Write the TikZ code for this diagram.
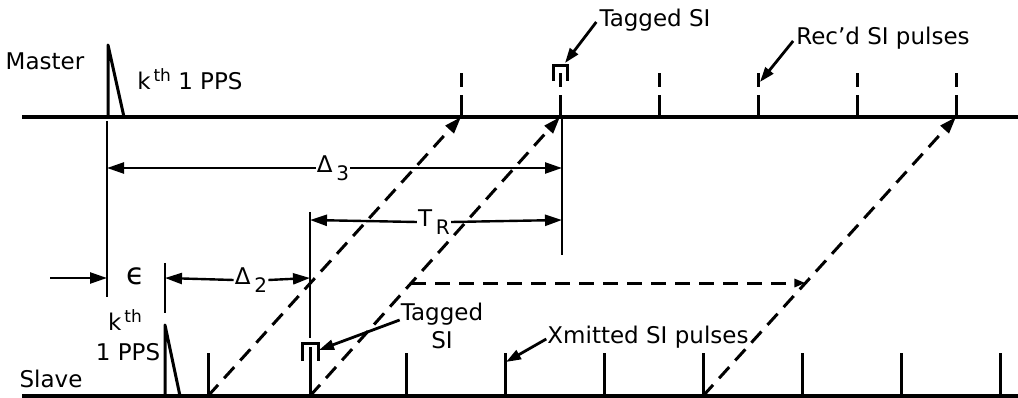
\documentclass[tikz,border=0pt]{standalone}
\usepackage{fontspec}
\setmainfont{DejaVu Sans}
\usetikzlibrary{arrows.meta,calc}
\newcommand\lsub[1]{\,\raisebox{-0.6ex}{\fontsize{20}{21}\selectfont #1}}
\newcommand\lsup[1]{\raisebox{0.65ex}{\fontsize{17}{18}\selectfont\,#1}}
\begin{document}
\begin{tikzpicture}[x=1pt,y=-1pt,
  every node/.style={font=\fontsize{23}{28}\selectfont, inner sep=1pt},
  base/.style={line width=3.6pt},
  dim/.style={line width=2.4pt},
  tick/.style={line width=3pt},
  rtick/.style={line width=3pt, dash pattern=on 22pt off 8pt on 20pt},
  dsh/.style={line width=3pt, dash pattern=on 15pt off 9pt},
  arr/.style={-{Triangle[length=17pt,width=11pt]}},
  sarr/.style={line width=2.8pt,-{Triangle[length=15pt,width=10pt]}},
]
\useasboundingbox (0,0) rectangle (1018,398);

% base lines
\coordinate (ml) at (22,117); \coordinate (mr) at (1018,117);
\coordinate (sl) at (22,396); \coordinate (sr) at (1018,396);
\draw[base] (ml) -- (mr);
\draw[base] (sl) -- (sr);

% master 1 PPS pulse
\coordinate (mp) at (108,117); \coordinate (mptop) at (108,45); \coordinate (mpfoot) at (124,117);
\draw[tick, line join=round] (mp) -- (mptop) -- (mpfoot);

% master received ticks
\foreach \i/\x in {1/461,2/560,3/659,4/758,5/857,6/956} {
  \coordinate (m\i) at (\x,117);
  \coordinate (mt\i) at (\x,73);
  \draw[rtick] (m\i) -- (mt\i);
}
% tagged bracket on master
\draw[tick] (553,81) -- (553,66) -- (567,66) -- (567,81);

% slave 1 PPS pulse
\coordinate (sp) at (165,396); \coordinate (sptop) at (165,325); \coordinate (spfoot) at (180,396);
\draw[tick, line join=round] (sp) -- (sptop) -- (spfoot);

% slave ticks
\foreach \i/\x in {0/208,2/406,3/505,4/604,5/703,6/802,7/901,8/1000} {
  \coordinate (s\i) at (\x,396);
  \coordinate (st\i) at (\x,353);
  \draw[tick] (s\i) -- (st\i);
}
% slave tagged tick
\coordinate (s1) at (310,396);
\coordinate (st1) at (310,347);
\draw[tick] (s1) -- (st1);
\draw[tick] (302,361) -- (302,343) -- (318,343) -- (318,361);

% vertical reference lines
\coordinate (va1) at (107,121); \coordinate (vb1) at (107,297);
\draw[dim] (va1) -- (vb1);
\coordinate (va2) at (562,117); \coordinate (vb2) at (562,255);
\draw[dim] (va2) -- (vb2);
\coordinate (va3) at (310,212); \coordinate (vb3) at (310,338);
\draw[dim] (va3) -- (vb3);
\coordinate (va4) at (165,263); \coordinate (vb4) at (165,313);
\draw[dim] (va4) -- (vb4);

% dashed propagation lines
\draw[dsh,arr] (s0) -- (m1);
\draw[dsh,arr] (s1) -- (m2);
\draw[dsh,arr] (s5) -- (m6);
\coordinate (h1) at ($(s1)!0.405!(m2)$);
\coordinate (h2) at ($(s5)!0.405!(m6)$);
\draw[dsh,-{Triangle[length=11pt,width=8pt]}] (h1) -- (h2);

% Delta 3
\coordinate (d3l) at (107,168); \coordinate (d3r) at (562,168);
\node (d3) at (333,168) {Δ\lsub{3}};
\draw[dim,arr] (d3.west) -- (d3l);
\draw[dim,arr] (d3.east) -- (d3r);

% T_R
\coordinate (trl) at (310,220); \coordinate (trr) at (562,220);
\node (tr) at (434,222) {T\lsub{R}};
\draw[dim,arr] (tr.west) -- (trl);
\draw[dim,arr] (tr.east) -- (trr);

% Delta 2
\coordinate (d2l) at (165,278); \coordinate (d2r) at (310,278);
\node (d2) at (251,280) {Δ\lsub{2}};
\draw[dim,arr] (d2.west) -- (d2l);
\draw[dim,arr] (d2.east) -- (d2r);

% epsilon
\coordinate (ea) at (50,278); \coordinate (eb) at (107,278);
\draw[dim,arr] (ea) -- (eb);
\node[font=\fontsize{30}{32}\selectfont] (eps) at (136,276) {ϵ};

% labels
\node (master) at (45,61) {Master};
\node (slave) at (51,379) {Slave};
\node (mk) at (190,79) {k\lsup{th} 1 PPS};
\node (sk1) at (125,320) {k\lsup{th}};
\node (sk2) at (128,352) {1 PPS};

\node (tsm) at (655,20) {Tagged SI};
\coordinate (tsmtip) at (565,63);
\draw[sarr] ([xshift=-2pt,yshift=-2pt]tsm.west) -- (tsmtip);

\node (rsp) at (883,38) {Rec'd SI pulses};
\coordinate (rsptip) at (760,82);
\draw[sarr] ([xshift=-2pt,yshift=-3pt]rsp.west) -- (rsptip);

\node[align=center] (tss) at (442,326) {Tagged\\SI};
\coordinate (tsstip) at (319,350);
\draw[sarr] ([yshift=6pt]tss.west) -- (tsstip);

\node (xsp) at (648,337) {Xmitted SI pulses};
\coordinate (xsptip) at (506,362);
\draw[sarr] ([yshift=-2pt]xsp.west) -- (xsptip);
\end{tikzpicture}
\end{document}
